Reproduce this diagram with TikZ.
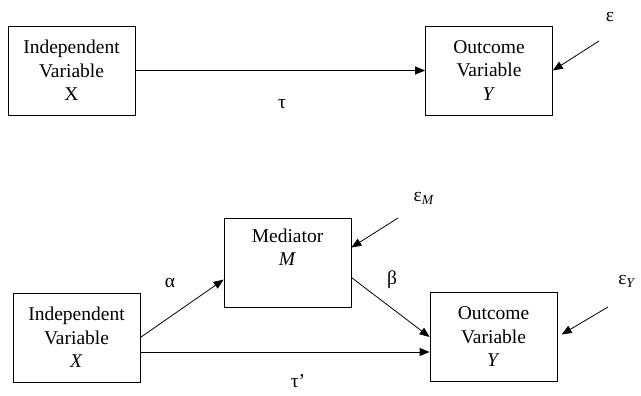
\documentclass[tikz,border=0pt]{standalone}
\usepackage{fontspec}
\setmainfont{Liberation Serif}
\usepackage{tikz}
\usetikzlibrary{arrows.meta}

\begin{document}
\begin{tikzpicture}[x=1pt, y=-1pt, every node/.style={font=\fontsize{19.5}{23.5}\selectfont}]
% Define styles
\tikzstyle{box} = [rectangle, minimum width=127pt, minimum height=89pt, align=center, draw=black, line width=0.8pt, inner sep=0pt]
\tikzstyle{arrow} = [line width=0.8pt, -{Triangle[length=10pt,width=8pt]}]
\tikzstyle{lbl} = [inner sep=0pt]
\useasboundingbox (0,0) rectangle (641,396);
% Place nodes
\node (x1) [box] at (71.5,70.5) {Independent\\ Variable\\ X};
\node (y1) [box] at (489,70.5) {Outcome\\ Variable\\ \textit{Y}};
\node (tau) [lbl] at (282,104) {τ};
\node (eps) [lbl] at (610,17) {ε};
\coordinate (e1) at (599,41);
\node (x2) [box] at (76.5,337.5) {Independent\\ Variable\\ \textit{X}};
\node (med) [box] at (287.5,262.5) {Mediator\\ \textit{M}\\ \strut};
\node (y2) [box] at (493.5,337) {Outcome\\ Variable\\ \textit{Y}};
\node (alpha) [lbl] at (170,283) {α};
\node (beta) [lbl] at (392,280) {β};
\node (taup) [lbl] at (298,381) {τ’};
\node (epsm) [lbl] at (424,198) {ε\textsubscript{\textit{M}}};
\node (epsy) [lbl] at (627,281) {ε\textsubscript{\textit{Y}}};
\coordinate (em) at (398,218);
\coordinate (ey) at (608,307);
% Draw arrows
\draw [arrow] (x1) -- (y1);
\draw [arrow] (e1) -- (y1.east);
\draw [arrow] (x2.east) -- (med.195);
\draw [arrow] ([yshift=-15pt]med.east) -- (y2.west);
\draw [arrow] ([yshift=-14.5pt]x2.east) -- ([yshift=-14.5pt]x2.east -| y2.west);
\draw [arrow] (em) -- ([yshift=15pt]med.east);
\draw [arrow, shorten >=5pt] (ey) -- (y2.east);
\end{tikzpicture}
\end{document}
